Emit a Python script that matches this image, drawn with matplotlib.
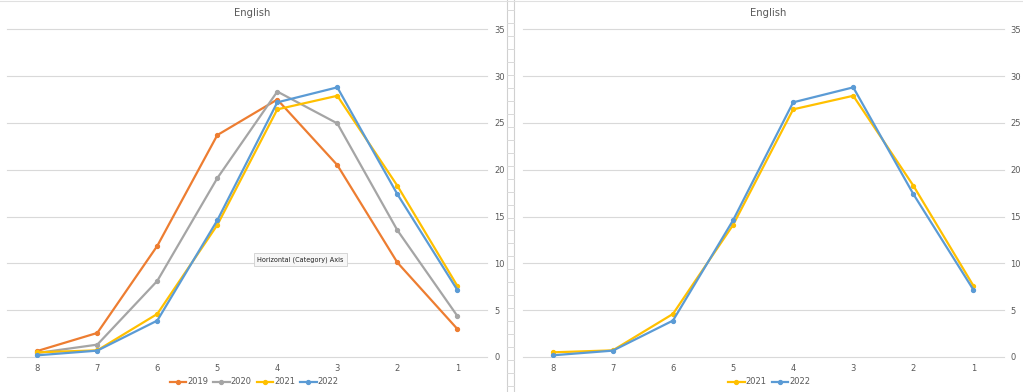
import matplotlib
matplotlib.use("Agg")
import matplotlib.pyplot as plt
from matplotlib.lines import Line2D

categories = ["8", "7", "6", "5", "4", "3", "2", "1"]
v2019 = [0.64, 2.57, 11.87, 23.7, 27.5, 20.5, 10.1, 3.0]
v2020 = [0.43, 1.32, 8.13, 19.1, 28.35, 24.95, 13.55, 4.39]
v2021 = [0.5, 0.71, 4.6, 14.1, 26.45, 27.9, 18.3, 7.6]
v2022 = [0.18, 0.68, 3.89, 14.6, 27.2, 28.8, 17.4, 7.17]
y_ticks = [0, 5, 10, 15, 20, 25, 30, 35]
title_text = "English"

colors = {"2019": "#ED7D31", "2020": "#A5A5A5", "2021": "#FFC000", "2022": "#5B9BD5"}
TXT = "#595959"
W, H = 1023, 392

fig = plt.figure(figsize=(W / 100, H / 100), dpi=100)
fig.patch.set_facecolor("white")


def px_axes(left, top, right, bottom):
    return fig.add_axes([left / W, 1 - bottom / H, (right - left) / W, (bottom - top) / H])


def draw_panel(ax, series, cx, legend_x):
    x = list(range(len(categories)))
    for name, vals in series:
        ax.plot(x, vals, color=colors[name], lw=1.6, marker="o", markersize=2.8,
                label=name, zorder=3)
    ax.set_xlim(-0.5, len(categories) - 0.5)
    ax.set_ylim(0, 35)
    ax.set_yticks(y_ticks)
    ax.set_xticks(x)
    ax.set_xticklabels(categories)
    ax.yaxis.tick_right()
    ax.tick_params(axis="both", length=0, labelsize=6, colors=TXT)
    ax.tick_params(axis="y", pad=5)
    ax.tick_params(axis="x", pad=5)
    for s in ax.spines.values():
        s.set_visible(False)
    for t in y_ticks:
        ax.axhline(t, color="#D9D9D9", lw=0.8, clip_on=False, zorder=1)
    fig.text(cx / W, 1 - 13 / H, title_text, ha="center", va="center",
             fontsize=7.2, color=TXT)
    handles = [Line2D([0], [0], color=colors[n], lw=1.6, marker="o", markersize=2.8)
               for n, _ in series]
    fig.legend(handles, [n for n, _ in series], loc="center",
               bbox_to_anchor=(legend_x / W, 1 - 382 / H), ncol=len(series),
               frameon=False, fontsize=6, labelcolor=TXT, handlelength=2.0,
               handletextpad=0.1, columnspacing=0.6, borderpad=0)


axL = px_axes(7.3, 29.3, 487.3, 357)
draw_panel(axL, [("2019", v2019), ("2020", v2020), ("2021", v2021), ("2022", v2022)],
           252, 254)

axR = px_axes(522.7, 29.3, 1003.5, 357)
draw_panel(axR, [("2021", v2021), ("2022", v2022)], 768, 769)

# spreadsheet strip between the two charts
for xp in (506.5, 514):
    fig.add_artist(Line2D([xp / W, xp / W], [0, 1], color="#D0D0D0", lw=0.8))
y = 10.0
while y < H:
    fig.add_artist(Line2D([506.5 / W, 514 / W], [1 - y / H, 1 - y / H], color="#D9D9D9", lw=0.7))
    y += 12.97
fig.add_artist(Line2D([0, 1], [1 - 0.5 / H, 1 - 0.5 / H], color="#E0E0E0", lw=0.8))

# tooltip
fig.text(300.5 / W, 1 - 259.5 / H, "Horizontal (Category) Axis", ha="center", va="center",
         fontsize=4.7, color="#222222",
         bbox=dict(boxstyle="square,pad=0.55", fc="#F7F7F7", ec="#D0D0D0", lw=0.6),
         zorder=10)

fig.savefig("out.png", dpi=100, facecolor="white")
